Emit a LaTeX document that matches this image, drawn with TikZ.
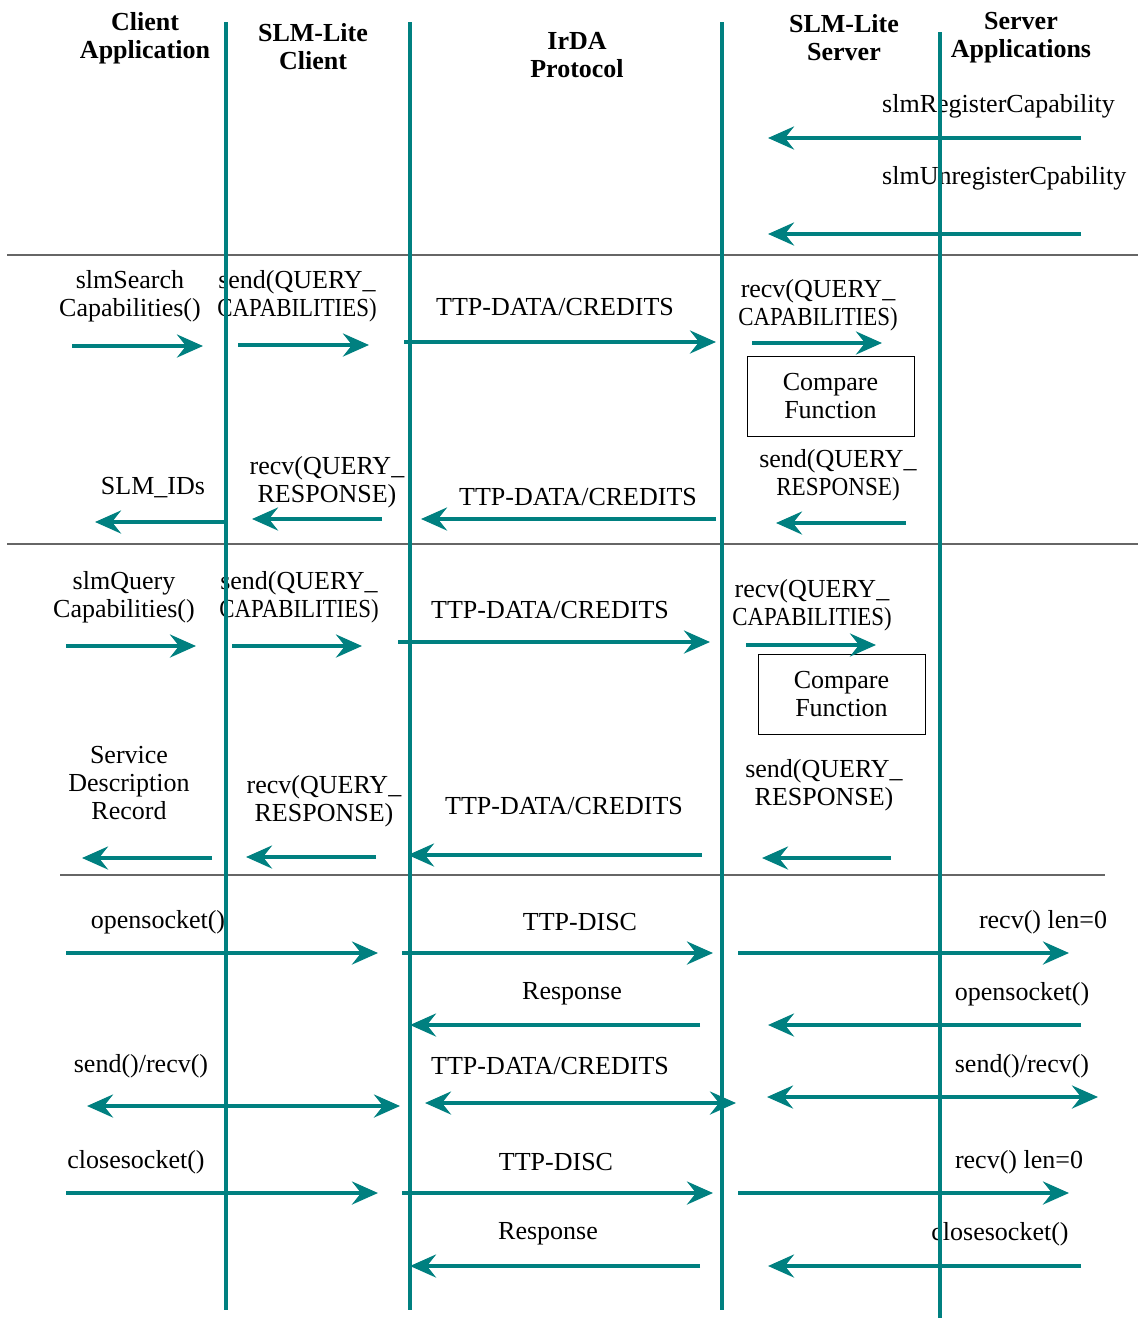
\documentclass[tikz,border=0pt]{standalone}
\usepackage{fontspec}
\usepackage{graphicx}
\setmainfont{Liberation Serif}
\usetikzlibrary{arrows.meta}
\definecolor{teal}{HTML}{008080}
\tikzset{
  txt/.style={inner sep=0pt, align=center, font=\fontsize{26}{28}\selectfont},
  hdr/.style={inner sep=0pt, align=center, font=\fontsize{26}{28}\selectfont\bfseries},
  life/.style={draw=teal, line width=4pt},
  sep/.style={draw=black!60, line width=1.2pt},
  msg/.style={draw=teal, line width=4pt, -{Stealth[length=26pt,width=23pt,inset=9pt]}},
  dmsg/.style={draw=teal, line width=4pt, {Stealth[length=26pt,width=23pt,inset=9pt]}-{Stealth[length=26pt,width=23pt,inset=9pt]}},
  fbox/.style={draw=black, line width=1pt, inner sep=0pt, align=center, font=\fontsize{26}{28}\selectfont}
}
\newcommand\arr[6]{\coordinate (#1a) at (#2,#3); \coordinate (#1b) at (#4,#5); \draw[#6] (#1a) -- (#1b);}
\newcommand\capsq{\scalebox{0.88}[1]{CAPABILITIES)}}
\newcommand\respsq{\scalebox{0.89}[1]{RESPONSE)}}
\begin{document}
\begin{tikzpicture}[x=1pt,y=-1pt]
\useasboundingbox (0,0) rectangle (1138,1318);
% headers
\node[hdr] (h1) at (145,38) {Client\\Application};
\node[hdr] (h2) at (313,47) {SLM-Lite\\Client};
\node[hdr] (h3) at (577,55) {IrDA\\Protocol};
\node[hdr] (h4) at (844,38) {SLM-Lite\\Server};
\node[hdr] (h5) at (1021,38) {Server\\Applications};
% separators
\coordinate (s1a) at (7,255); \coordinate (s1b) at (1138,255); \draw[sep] (s1a) -- (s1b);
\coordinate (s2a) at (7,544); \coordinate (s2b) at (1138,544); \draw[sep] (s2a) -- (s2b);
\coordinate (s3a) at (60,875); \coordinate (s3b) at (1105,875); \draw[sep] (s3a) -- (s3b);
% section 1 texts
\node[txt, anchor=west] (t1) at (882,106) {slmRegisterCapability};
\node[txt, anchor=west] (t2) at (882,178) {slmUnregisterCpability};
% section 2 texts
\node[txt] (t3) at (130,296) {slmSearch\\Capabilities()};
\node[txt] (t4) at (297,296) {send(QUERY\_\\\capsq};
\node[txt] (t5) at (555,307) {TTP-DATA/CREDITS};
\node[txt] (t6) at (818,305) {recv(QUERY\_\\\capsq};
\node[fbox, minimum width=167pt, minimum height=80pt] (cf1) at (830.5,396) {Compare\\Function};
\node[txt] (t7) at (838,475) {send(QUERY\_\\\respsq};
\node[txt] (t8) at (578,497) {TTP-DATA/CREDITS};
\node[txt] (t9) at (327,482) {recv(QUERY\_\\RESPONSE)};
\node[txt] (t10) at (153,488) {SLM\_IDs};
% section 3 texts
\node[txt] (t11) at (124,597) {slmQuery\\Capabilities()};
\node[txt] (t12) at (299,597) {send(QUERY\_\\\capsq};
\node[txt] (t13) at (550,610) {TTP-DATA/CREDITS};
\node[txt] (t14) at (812,605) {recv(QUERY\_\\\capsq};
\node[fbox, minimum width=167pt, minimum height=80pt] (cf2) at (841.5,694) {Compare\\Function};
\node[txt] (t15) at (129,783) {Service\\Description\\Record};
\node[txt] (t16) at (324,801) {recv(QUERY\_\\RESPONSE)};
\node[txt] (t17) at (564,806) {TTP-DATA/CREDITS};
\node[txt] (t18) at (824,785) {send(QUERY\_\\RESPONSE)};
% section 4 texts
\node[txt] (t19) at (158,922) {opensocket()};
\node[txt] (t20) at (580,922) {TTP-DISC};
\node[txt] (t21) at (1043,922) {recv() len=0};
\node[txt] (t22) at (572,994) {Response};
\node[txt] (t23) at (1022,994) {opensocket()};
\node[txt] (t24) at (141,1066) {send()/recv()};
\node[txt] (t25) at (550,1066) {TTP-DATA/CREDITS};
\node[txt] (t26) at (1022,1066) {send()/recv()};
\node[txt] (t27) at (136,1162) {closesocket()};
\node[txt] (t28) at (556,1162) {TTP-DISC};
\node[txt] (t29) at (1019,1162) {recv() len=0};
\node[txt] (t30) at (548,1234) {Response};
\node[txt] (t31) at (1000,1234) {closesocket()};
% lifelines
\arr{L1}{226}{22}{226}{1310}{life}
\arr{L2}{410}{22}{410}{1310}{life}
\arr{L3}{722}{22}{722}{1310}{life}
\arr{L4}{940}{32}{940}{1318}{life}
% section 1 arrows
\arr{a1}{1081}{138}{768}{138}{msg}
\arr{a2}{1081}{234}{768}{234}{msg}
% section 2 arrows
\arr{a3}{72}{346}{203}{346}{msg}
\arr{a4}{238}{345}{369}{345}{msg}
\arr{a5}{404}{342}{716}{342}{msg}
\arr{a6}{752}{343}{882}{343}{msg}
\arr{a7}{906}{523}{776}{523}{msg}
\arr{a8}{716}{519}{421}{519}{msg}
\arr{a9}{382}{519}{252}{519}{msg}
\arr{a10}{226}{522}{95}{522}{msg}
% section 3 arrows
\arr{a11}{66}{646}{196}{646}{msg}
\arr{a12}{232}{646}{362}{646}{msg}
\arr{a13}{398}{642}{710}{642}{msg}
\arr{a14}{746}{645}{876}{645}{msg}
\arr{a15}{212}{858}{82}{858}{msg}
\arr{a16}{376}{857}{246}{857}{msg}
\arr{a17}{702}{855}{408}{855}{msg}
\arr{a18}{891}{858}{762}{858}{msg}
% section 4 arrows
\arr{a19}{66}{953}{378}{953}{msg}
\arr{a20}{402}{953}{713}{953}{msg}
\arr{a21}{738}{953}{1069}{953}{msg}
\arr{a22}{700}{1025}{410}{1025}{msg}
\arr{a23}{1081}{1025}{768}{1025}{msg}
\arr{a24}{87}{1106}{400}{1106}{dmsg}
\arr{a25}{425}{1103}{736}{1103}{dmsg}
\arr{a26}{767}{1097}{1098}{1097}{dmsg}
\arr{a27}{66}{1193}{378}{1193}{msg}
\arr{a28}{402}{1193}{713}{1193}{msg}
\arr{a29}{738}{1193}{1069}{1193}{msg}
\arr{a30}{700}{1266}{410}{1266}{msg}
\arr{a31}{1081}{1266}{768}{1266}{msg}
\end{tikzpicture}
\end{document}
